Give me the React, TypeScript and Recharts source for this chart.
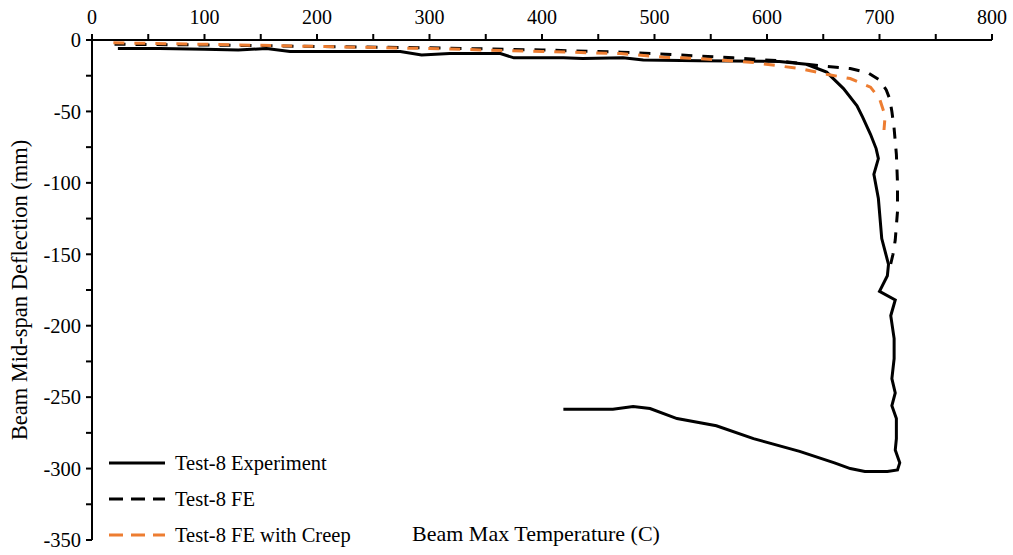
import { LineChart, Line, XAxis, YAxis, Legend } from "recharts";

// Test-8 experiment: beam max temperature (C) vs mid-span deflection (mm)
const experimentTemp = [
  23, 60, 100, 130, 155, 176, 200, 274, 293, 318,
  363, 375, 419, 436, 472, 490, 540, 611, 635, 653,
  668, 680, 685, 692, 697, 699, 695, 699, 702, 708,
  707, 700, 714, 710, 713, 713, 711, 714, 711, 715,
  715, 714, 718, 716, 707, 687, 674, 660, 629, 588,
  555, 520, 496, 481, 463, 419,
];
const experimentDefl = [
  -6, -6, -6.5, -7, -6, -8, -8, -8, -10.5, -9.5,
  -9.5, -12.5, -12.5, -13, -12.5, -14, -14.5, -15, -17, -22.5,
  -34, -46, -54, -66, -76, -83, -94, -111, -139, -157,
  -165, -176, -182, -193, -209, -223, -237, -247, -256, -265,
  -279, -287, -296, -301, -302, -302, -300, -296, -288, -279,
  -270, -265, -258, -256.5, -258.5, -258.5,
];

// Test-8 FE model
const feTemp = [
  20, 100, 200, 300, 400, 470, 510, 570, 610, 630, 653, 674,
  690, 700, 706, 709, 711, 713, 715, 716, 716, 714, 712, 709,
];
const feDefl = [
  -3, -3.5, -4.5, -5.5, -7, -8.5, -10, -12.5, -14.5, -16.5, -18.5, -20,
  -23, -28, -35, -41, -50, -62, -80, -100, -120, -140, -150, -160,
];

// Test-8 FE model with creep
const creepTemp = [19, 100, 200, 300, 400, 470, 508, 540, 585, 629, 653, 674, 692, 700, 705, 704];
const creepDefl = [-2, -3, -4.5, -6, -8, -9.5, -12, -13, -15.5, -20, -24, -27, -33, -41, -53, -63];

const xTicks = [0, 50, 100, 150, 200, 250, 300, 350, 400, 450, 500, 550, 600, 650, 700, 750, 800];
const yTicks = [0, -25, -50, -75, -100, -125, -150, -175, -200, -225, -250, -275, -300, -325, -350];

const zip = (t: number[], d: number[]) => t.map((temp, i) => ({ temp, defl: d[i] }));

const series = [
  { name: "Test-8 Experiment", data: zip(experimentTemp, experimentDefl), color: "#000000", dash: undefined, legendDash: undefined },
  { name: "Test-8 FE", data: zip(feTemp, feDefl), color: "#000000", dash: "11 10", legendDash: "14 8" },
  { name: "Test-8 FE with Creep", data: zip(creepTemp, creepDefl), color: "#ED7D31", dash: "11 10", legendDash: "14 8" },
];

const FONT = "'Liberation Serif', 'Times New Roman', serif";

function LegendBox() {
  return (
    <div style={{ fontFamily: FONT, fontSize: 20.5, color: "#000" }}>
      {series.map((s) => (
        <div key={s.name} style={{ display: "flex", alignItems: "center", height: 36 }}>
          <svg width={58} height={6} style={{ marginRight: 9 }}>
            <line x1={1} y1={3} x2={57} y2={3} stroke={s.color} strokeWidth={3} strokeDasharray={s.legendDash} />
          </svg>
          <span>{s.name}</span>
        </div>
      ))}
    </div>
  );
}

export default function App() {
  return (
    <div style={{ position: "absolute", left: 0, top: 0, width: 1013, height: 555, background: "#fff", fontFamily: FONT }}>
      <LineChart width={1013} height={555} margin={{ top: 10, right: 21, bottom: 15, left: 32 }}>
        <XAxis
          type="number"
          dataKey="temp"
          orientation="top"
          domain={[0, 800]}
          ticks={xTicks}
          tickFormatter={(v: number) => (v % 100 === 0 ? String(v) : "")}
          height={30}
          tickSize={6}
          tickMargin={10}
          axisLine={{ stroke: "#000", strokeWidth: 2 }}
          tickLine={{ stroke: "#000", strokeWidth: 2 }}
          tick={{ fill: "#000", fontSize: 20, fontFamily: FONT }}
        />
        <YAxis
          type="number"
          dataKey="defl"
          domain={[-350, 0]}
          ticks={yTicks}
          tickFormatter={(v: number) => (v % 50 === 0 ? String(v) : "")}
          width={60}
          tickSize={6}
          tickMargin={5}
          axisLine={{ stroke: "#000", strokeWidth: 2 }}
          tickLine={{ stroke: "#000", strokeWidth: 2 }}
          tick={{ fill: "#000", fontSize: 20.5, fontFamily: FONT }}
        />
        <Legend
          layout="vertical"
          align="center"
          verticalAlign="middle"
          wrapperStyle={{ left: 108, top: 445, width: 320 }}
          content={() => <LegendBox />}
        />
        {series.map((s) => (
          <Line
            key={s.name}
            name={s.name}
            data={s.data}
            dataKey="defl"
            type="linear"
            stroke={s.color}
            strokeWidth={3}
            strokeDasharray={s.dash}
            dot={false}
            activeDot={false}
            isAnimationActive={false}
          />
        ))}
      </LineChart>
      <div
        style={{
          position: "absolute",
          left: 412,
          top: 521,
          fontSize: 22,
          whiteSpace: "nowrap",
        }}
      >
        Beam Max Temperature (C)
      </div>
      <div
        style={{
          position: "absolute",
          left: 20,
          top: 290,
          fontSize: 22.5,
          whiteSpace: "nowrap",
          transform: "translate(-50%, -50%) rotate(-90deg)",
        }}
      >
        Beam Mid-span Deflection (mm)
      </div>
    </div>
  );
}
